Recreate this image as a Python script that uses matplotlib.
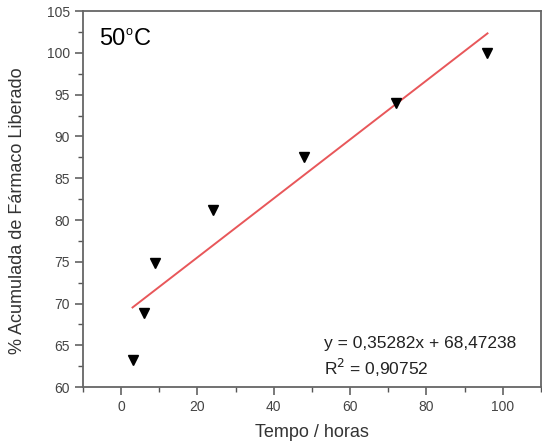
import matplotlib.pyplot as plt
import numpy as np
from matplotlib.ticker import MultipleLocator

plt.rcParams['font.family'] = ['Liberation Sans', 'DejaVu Sans']

# tempo (horas) e % acumulada liberada
tempo = [3, 6, 9, 24, 48, 72, 96]
liberado = [63.2, 68.9, 74.9, 81.2, 87.5, 94.0, 100.0]

slope = 0.35282
intercept = 68.47238
eq_text = "y = 0,35282x + 68,47238"
r2_text = "R$^2$ = 0,90752"

fig = plt.figure(figsize=(5.42, 4.48), dpi=100)
ax = fig.add_axes([0.153, 0.136, 0.845, 0.839])

xfit = np.array([tempo[0], tempo[-1]])
ax.plot(xfit, slope * xfit + intercept, color="#e8575a", linewidth=1.4, zorder=2)
ax.plot(tempo, liberado, linestyle="none", marker="v", color="black",
        markersize=7, zorder=3)

ax.set_xlim(-10, 110)
ax.set_ylim(60, 105)
ax.xaxis.set_major_locator(MultipleLocator(20))
ax.xaxis.set_minor_locator(MultipleLocator(10))
ax.yaxis.set_major_locator(MultipleLocator(5))
ax.yaxis.set_minor_locator(MultipleLocator(2.5))

grey = "#555555"
for s in ax.spines.values():
    s.set_color("#666666")
    s.set_linewidth(1.3)
ax.tick_params(which="both", direction="out", colors=grey, labelcolor="#444444",
               labelsize=10, top=False, right=False)
ax.tick_params(which="major", length=6, width=1.1)
ax.tick_params(which="minor", length=3.5, width=1.0)

ax.set_xlabel("Tempo / horas", fontsize=13, color="#333333", labelpad=7)
ax.set_ylabel("% Acumulada de Fármaco Liberado", fontsize=13, color="#333333")
ax.yaxis.set_label_coords(-0.125, 0.47)

# 50ºC com o "o" pequeno e elevado
t50 = ax.text(0.035, 0.955, "50", transform=ax.transAxes,
              fontsize=17, ha="left", va="top", color="black")
tdeg = ax.annotate("o", xy=(1, 1), xycoords=t50, xytext=(0.5, 1.5),
                   textcoords="offset points", fontsize=9, ha="left", va="top")
ax.annotate("C", xy=(1, 0), xycoords=(tdeg, t50), xytext=(0.5, 0),
            textcoords="offset points", fontsize=17, ha="left", va="bottom")

ax.text(0.527, 0.115, eq_text, transform=ax.transAxes, fontsize=12.5,
        ha="left", va="center", color="#222222")
ax.text(0.527, 0.052, r2_text, transform=ax.transAxes, fontsize=12.5,
        ha="left", va="center", color="#222222")

fig.savefig("out.png", dpi=100)
